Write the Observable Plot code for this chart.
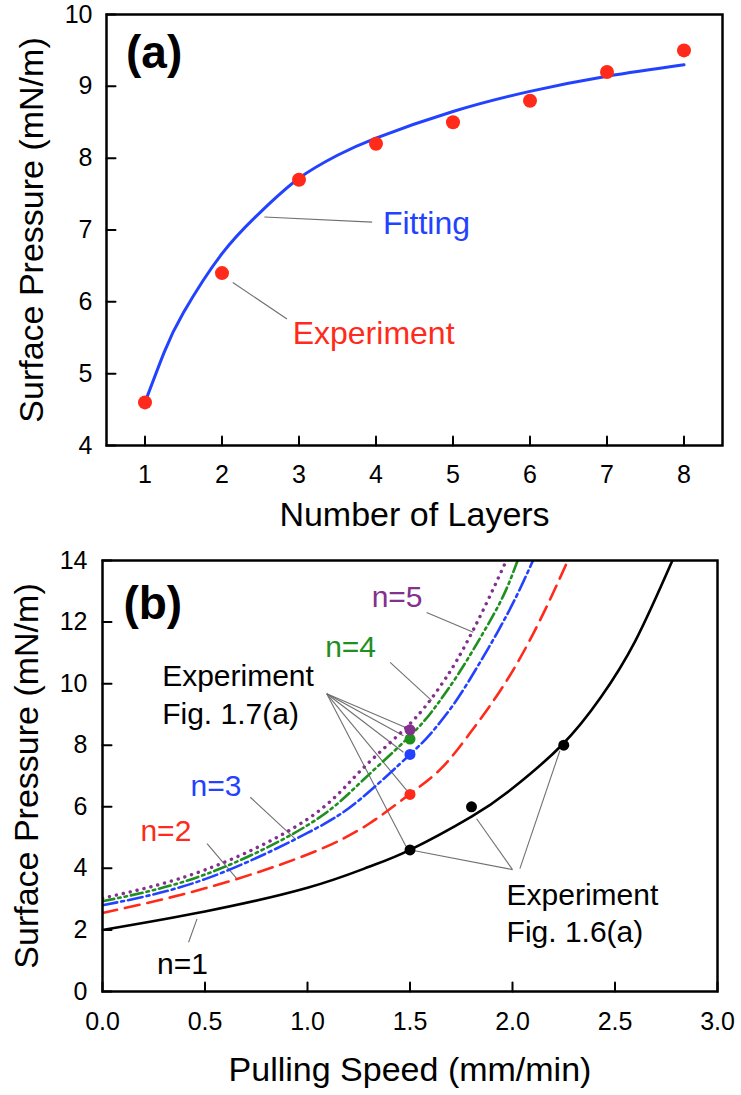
<!DOCTYPE html>
<html><head><meta charset="utf-8">
<script src="https://cdn.jsdelivr.net/npm/d3@7"></script>
<script src="https://cdn.jsdelivr.net/npm/@observablehq/plot@0.6"></script>
<style>body{margin:0;background:#fff;} #chart{width:741px;}</style>
</head><body><div id="chart"></div>
<script>
// ---------- Panel (a) data ----------
const layers = [1, 2, 3, 4, 5, 6, 7, 8];
const expPressureA = [4.6, 6.4, 7.7, 8.2, 8.5, 8.8, 9.2, 9.5];
const fitLayers = [1, 1.25, 1.5, 2, 2.5, 3, 3.5, 4, 5, 6, 7, 8];
const fitPressure = [4.6, 5.3, 5.85, 6.67, 7.25, 7.72, 8.04, 8.28, 8.65, 8.93, 9.14, 9.30];
const layerTicks = [1, 2, 3, 4, 5, 6, 7, 8];
const pressureTicksA = [4, 5, 6, 7, 8, 9, 10];

// ---------- Panel (b) data ----------
const speedN1 = [0, 0.5, 1.0, 1.3, 1.5, 1.8, 2.0, 2.24, 2.43, 2.6, 2.78];
const pressN1 = [2.0, 2.6, 3.37, 4.05, 4.6, 5.68, 6.6, 8.0, 9.55, 11.4, 14.0];
const speedN2 = [0, 0.5, 1.0, 1.3, 1.5, 1.65, 1.79, 1.94, 2.07, 2.18, 2.27];
const pressN2 = [2.55, 3.35, 4.45, 5.45, 6.42, 7.23, 8.37, 9.77, 11.23, 12.69, 14.0];
const speedN3 = [0, 0.5, 1.0, 1.26, 1.5, 1.6, 1.71, 1.82, 1.925, 2.02, 2.1];
const pressN3 = [2.8, 3.65, 5.15, 6.26, 7.7, 8.37, 9.3, 10.45, 11.65, 12.85, 14.0];
const speedN4 = [0, 0.5, 1.0, 1.26, 1.5, 1.63, 1.744, 1.857, 1.955, 2.025];
const pressN4 = [2.93, 3.8, 5.4, 6.8, 8.3, 9.3, 10.4, 11.65, 12.85, 14.0];
const speedN5 = [0, 0.5, 1.0, 1.26, 1.5, 1.646, 1.728, 1.809, 1.89, 1.97];
const pressN5 = [3.03, 3.95, 5.6, 7.18, 8.7, 9.9, 10.75, 11.75, 12.85, 14.0];

const exp16Speed = [1.5, 1.8, 2.25];
const exp16Press = [4.6, 6.0, 8.0];
const exp17Speed = [1.5, 1.5, 1.5, 1.5];
const exp17Press = [6.4, 7.7, 8.2, 8.5];
const exp17Series = ["n=2", "n=3", "n=4", "n=5"];

const speedTicks = [0, 0.5, 1.0, 1.5, 2.0, 2.5, 3.0];
const pressureTicksB = [0, 2, 4, 6, 8, 10, 12, 14];

// ---------- styles ----------
const FONT = "'Liberation Sans', Arial, Helvetica, sans-serif";
const RED = "#ff2a1a", BLUE = "#2342ff", GREEN = "#1f8f1f", PURPLE = "#83308f", BLACK = "#000";
const LEAD = "#707070";
const seriesColor = {"n=1": BLACK, "n=2": RED, "n=3": BLUE, "n=4": GREEN, "n=5": PURPLE};

const tickShape = {draw(context, l) { context.moveTo(0, 0); context.lineTo(0, -l); }};
function inwardTicks(xt, yt, xmin, ymin) {
  return [
    Plot.vector(xt, {x: d => d, y: () => ymin, length: 9, rotate: 0, anchor: "start", shape: tickShape, stroke: "black", strokeWidth: 2}),
    Plot.vector(yt, {x: () => xmin, y: d => d, length: 9, rotate: 90, anchor: "start", shape: tickShape, stroke: "black", strokeWidth: 2})
  ];
}

// ---------- Panel (a) ----------
const fitTable = fitLayers.map((x, i) => ({x, y: fitPressure[i]}));
const expTableA = layers.map((x, i) => ({x, y: expPressureA[i]}));
const labelsA = [
  {x: 4.09, y: 6.95, text: "Fitting", color: BLUE},
  {x: 2.918, y: 5.416, text: "Experiment", color: RED}
];
const leadersA = [
  {x1: 2.55, y1: 7.18, x2: 3.95, y2: 7.11},
  {x1: 2.14, y1: 6.27, x2: 2.844, y2: 5.76}
];

const chartA = Plot.plot({
  width: 741, height: 540,
  marginLeft: 106, marginRight: 19, marginTop: 14, marginBottom: 95,
  style: {fontFamily: FONT, fontSize: "25px", color: "#000", background: "#fff"},
  x: {domain: [0.5, 8.5]},
  y: {domain: [4, 10]},
  marks: [
    Plot.axisX(layerTicks, {tickSize: 0, tickPadding: 20, fontSize: 25, label: null, tickFormat: d => String(d)}),
    Plot.axisY(pressureTicksA, {tickSize: 0, tickPadding: 14, fontSize: 25, label: null, tickFormat: d => String(d)}),
    ...inwardTicks(layerTicks, pressureTicksA, 0.5, 4),
    Plot.link(leadersA, {x1: "x1", y1: "y1", x2: "x2", y2: "y2", stroke: LEAD, strokeWidth: 1.1}),
    Plot.line(fitTable, {x: "x", y: "y", stroke: BLUE, strokeWidth: 3, curve: "natural"}),
    Plot.dot(expTableA, {x: "x", y: "y", r: 7, fill: RED}),
    Plot.text(labelsA, {x: "x", y: "y", text: "text", fill: "color", textAnchor: "start", lineAnchor: "bottom", fontSize: 32}),
    Plot.text(["(a)"], {x: 0.753, y: 9.25, textAnchor: "start", lineAnchor: "bottom", fontSize: 46, fontWeight: "bold"}),
    Plot.text(["Number of Layers"], {frameAnchor: "bottom", dy: 80, textAnchor: "middle", lineAnchor: "bottom", fontSize: 34}),
    Plot.text(["Surface Pressure (mN/m)"], {frameAnchor: "left", rotate: -90, dx: -64, textAnchor: "middle", lineAnchor: "bottom", fontSize: 34}),
    Plot.frame({stroke: "black", strokeWidth: 2.5})
  ]
});

// ---------- Panel (b) ----------
function curve(name, xs, ys) { return xs.map((x, i) => ({series: name, x, y: ys[i]})); }
const curveN1 = curve("n=1", speedN1, pressN1);
const curveN2 = curve("n=2", speedN2, pressN2);
const curveN3 = curve("n=3", speedN3, pressN3);
const curveN4 = curve("n=4", speedN4, pressN4);
const curveN5 = curve("n=5", speedN5, pressN5);
const exp16 = exp16Speed.map((x, i) => ({x, y: exp16Press[i]}));
const exp17 = exp17Speed.map((x, i) => ({x, y: exp17Press[i], series: exp17Series[i]}));

const labelsB = [
  {x: 1.313, y: 12.48, text: "n=5", color: PURPLE},
  {x: 1.086, y: 10.85, text: "n=4", color: GREEN},
  {x: 0.429, y: 6.36, text: "n=3", color: BLUE},
  {x: 0.185, y: 4.90, text: "n=2", color: RED},
  {x: 0.266, y: 0.575, text: "n=1", color: BLACK},
  {x: 0.291, y: 8.70, text: "Experiment\nFig. 1.7(a)", color: BLACK},
  {x: 1.971, y: 1.60, text: "Experiment\nFig. 1.6(a)", color: BLACK}
];
const leadersB = [
  {x1: 1.581, y1: 12.31, x2: 1.809, y2: 11.67},
  {x1: 1.403, y1: 10.69, x2: 1.606, y2: 9.45},
  {x1: 0.721, y1: 6.31, x2: 0.940, y2: 4.96},
  {x1: 0.51, y1: 4.80, x2: 0.656, y2: 3.66},
  {x1: 0.420, y1: 1.60, x2: 0.461, y2: 2.36},
  {x1: 1.094, y1: 9.67, x2: 1.476, y2: 8.58},
  {x1: 1.094, y1: 9.67, x2: 1.468, y2: 8.31},
  {x1: 1.094, y1: 9.67, x2: 1.468, y2: 7.77},
  {x1: 1.094, y1: 9.67, x2: 1.484, y2: 6.53},
  {x1: 1.094, y1: 9.67, x2: 1.48, y2: 4.72},
  {x1: 2.0, y1: 3.96, x2: 1.516, y2: 4.58},
  {x1: 2.0, y1: 3.96, x2: 1.825, y2: 5.61},
  {x1: 2.036, y1: 3.99, x2: 2.231, y2: 7.82}
];

const lineOpts = {x: "x", y: "y", curve: "natural", clip: true, strokeWidth: 2.6};
const chartB = Plot.plot({
  width: 741, height: 555,
  marginLeft: 102, marginRight: 24, marginTop: 20, marginBottom: 104,
  style: {fontFamily: FONT, fontSize: "25px", color: "#000", background: "#fff"},
  x: {domain: [0, 3]},
  y: {domain: [0, 14]},
  marks: [
    Plot.axisX(speedTicks, {tickSize: 0, tickPadding: 21, fontSize: 25, label: null, tickFormat: d3.format(".1f")}),
    Plot.axisY(pressureTicksB, {tickSize: 0, tickPadding: 15, fontSize: 25, label: null, tickFormat: d => String(d)}),
    ...inwardTicks(speedTicks, pressureTicksB, 0, 0),
    Plot.link(leadersB, {x1: "x1", y1: "y1", x2: "x2", y2: "y2", stroke: LEAD, strokeWidth: 1.1}),
    Plot.line(curveN1, {...lineOpts, stroke: BLACK}),
    Plot.line(curveN2, {...lineOpts, stroke: RED, strokeDasharray: "15,8"}),
    Plot.line(curveN3, {...lineOpts, stroke: BLUE, strokeDasharray: "15,4,3,4"}),
    Plot.line(curveN4, {...lineOpts, stroke: GREEN, strokeDasharray: "12,4,2.5,4,2.5,4"}),
    Plot.line(curveN5, {...lineOpts, stroke: PURPLE, strokeWidth: 3.4, strokeDasharray: "0.1,7", strokeLinecap: "round"}),
    Plot.dot(exp17, {x: "x", y: "y", r: 5.5, fill: d => seriesColor[d.series]}),
    Plot.dot(exp16, {x: "x", y: "y", r: 5.5, fill: BLACK}),
    Plot.text(labelsB, {x: "x", y: "y", text: "text", fill: "color", textAnchor: "start", lineAnchor: "bottom", fontSize: 30, lineHeight: 1.24}),
    Plot.text(["(b)"], {x: 0.102, y: 12.11, textAnchor: "start", lineAnchor: "bottom", fontSize: 46, fontWeight: "bold"}),
    Plot.text(["Pulling Speed (mm/min)"], {frameAnchor: "bottom", dy: 89, textAnchor: "middle", lineAnchor: "bottom", fontSize: 34}),
    Plot.text(["Surface Pressure (mN/m)"], {frameAnchor: "left", rotate: -90, dx: -65, textAnchor: "middle", lineAnchor: "bottom", fontSize: 34}),
    Plot.frame({stroke: "black", strokeWidth: 2.5})
  ]
});

const host = document.getElementById("chart");
host.appendChild(chartA);
host.appendChild(chartB);
</script></body></html>
